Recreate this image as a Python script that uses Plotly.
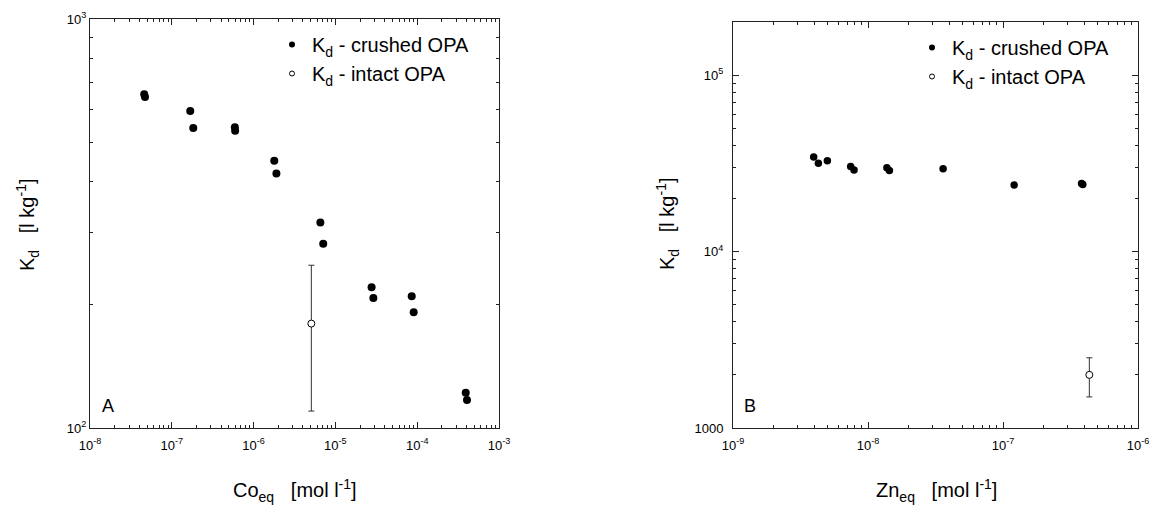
import plotly.graph_objects as go

# ---------------- data ----------------
co_crushed_x = [4.6e-8, 4.7e-8, 1.68e-7, 1.83e-7, 5.9e-7, 5.95e-7, 1.79e-6, 1.9e-6,
                6.55e-6, 7.1e-6, 2.77e-5, 2.91e-5, 8.57e-5, 9.06e-5, 3.92e-4, 4.06e-4]
co_crushed_kd = [655, 645, 596, 541, 544, 533, 450, 419, 318, 282, 221, 208, 210, 192, 122, 117]
co_intact_x = [5.08e-6]
co_intact_kd = [180]
co_intact_err_plus = [70]
co_intact_err_minus = [70]

zn_crushed_x = [3.96e-9, 4.29e-9, 5.0e-9, 7.44e-9, 7.88e-9, 1.38e-8, 1.44e-8, 3.6e-8,
                1.21e-7, 3.82e-7, 3.9e-7]
zn_crushed_kd = [34400, 31700, 32700, 30300, 29000, 29900, 28800, 29500, 23800, 24300, 24000]
zn_intact_x = [4.36e-7]
zn_intact_kd = [2000]
zn_intact_err_plus = [500]
zn_intact_err_minus = [500]

co_x_ticks = [1e-8, 1e-7, 1e-6, 1e-5, 1e-4, 1e-3]
co_x_labels = ["10<sup>-8</sup>", "10<sup>-7</sup>", "10<sup>-6</sup>",
               "10<sup>-5</sup>", "10<sup>-4</sup>", "10<sup>-3</sup>"]
co_y_ticks = [100, 1000]
co_y_labels = ["10<sup>2</sup>", "10<sup>3</sup>"]
zn_x_ticks = [1e-9, 1e-8, 1e-7, 1e-6]
zn_x_labels = ["10<sup>-9</sup>", "10<sup>-8</sup>", "10<sup>-7</sup>", "10<sup>-6</sup>"]
zn_y_ticks = [1000, 1e4, 1e5]
zn_y_labels = ["1000", "10<sup>4</sup>", "10<sup>5</sup>"]

legend_crushed = "K<sub>d</sub> - crushed OPA"
legend_intact = "K<sub>d</sub> - intact OPA"


def minor_vals(lo_exp, hi_exp):
    vals = []
    for e in range(lo_exp, hi_exp):
        for m in range(2, 10):
            vals.append(m * 10 ** e)
    return vals


FONT = "Arial, Liberation Sans, sans-serif"
AX = "#222222"

fig = go.Figure()

# ---- Panel A ----
fig.add_trace(go.Scatter(x=co_crushed_x, y=co_crushed_kd, mode="markers",
                         marker=dict(color="black", size=8), showlegend=False,
                         xaxis="x", yaxis="y"))
fig.add_trace(go.Scatter(x=co_intact_x, y=co_intact_kd, mode="markers",
                         marker=dict(color="white", size=7, line=dict(color="black", width=1)),
                         error_y=dict(type="data", array=co_intact_err_plus,
                                      arrayminus=co_intact_err_minus, color="#333333",
                                      thickness=1, width=3),
                         showlegend=False, xaxis="x", yaxis="y"))
fig.add_trace(go.Scatter(x=[None], y=[None], mode="markers", name=legend_crushed,
                         marker=dict(color="black", size=6), legend="legend",
                         xaxis="x", yaxis="y"))
fig.add_trace(go.Scatter(x=[None], y=[None], mode="markers", name=legend_intact,
                         marker=dict(color="white", size=5, line=dict(color="black", width=1)),
                         legend="legend", xaxis="x", yaxis="y"))

# ---- Panel B ----
fig.add_trace(go.Scatter(x=zn_crushed_x, y=zn_crushed_kd, mode="markers",
                         marker=dict(color="black", size=7.5), showlegend=False,
                         xaxis="x2", yaxis="y2"))
fig.add_trace(go.Scatter(x=zn_intact_x, y=zn_intact_kd, mode="markers",
                         marker=dict(color="white", size=7, line=dict(color="black", width=1)),
                         error_y=dict(type="data", array=zn_intact_err_plus,
                                      arrayminus=zn_intact_err_minus, color="#333333",
                                      thickness=1, width=3),
                         showlegend=False, xaxis="x2", yaxis="y2"))
fig.add_trace(go.Scatter(x=[None], y=[None], mode="markers", name=legend_crushed,
                         marker=dict(color="black", size=6), legend="legend2",
                         xaxis="x2", yaxis="y2"))
fig.add_trace(go.Scatter(x=[None], y=[None], mode="markers", name=legend_intact,
                         marker=dict(color="white", size=5, line=dict(color="black", width=1)),
                         legend="legend2", xaxis="x2", yaxis="y2"))


def axis(domain, rng, ticks, labels, minor, anchor, standoff):
    return dict(type="log", domain=domain, range=rng, anchor=anchor, automargin=False,
                tickmode="array", tickvals=ticks, ticktext=labels,
                ticks="inside", ticklen=6, tickwidth=1, tickcolor=AX,
                showline=True, linecolor=AX, linewidth=1, mirror="ticks",
                showgrid=False, zeroline=False, ticklabelstandoff=standoff,
                tickfont=dict(family=FONT, size=13, color="black"),
                minor=dict(tickmode="array", tickvals=minor, ticks="inside",
                           ticklen=3, tickwidth=1, tickcolor=AX, showgrid=False))


yA = [1 - 428 / 508, 1 - 19 / 508]
yB = [1 - 428 / 508, 1 - 22 / 508]


def ann(text, px, py, size, angle=0):
    return dict(text=text, x=px / 1153, y=1 - py / 508, xref="paper", yref="paper",
                xanchor="center", yanchor="middle", showarrow=False, textangle=angle,
                font=dict(family=FONT, size=size))


fig.update_layout(
    width=1153, height=508,
    margin=dict(l=0, r=0, t=0, b=0, pad=0),
    paper_bgcolor="white", plot_bgcolor="white",
    font=dict(family=FONT, color="black"),
    xaxis=axis([90 / 1153, 499 / 1153], [-8, -3], co_x_ticks, co_x_labels,
               minor_vals(-8, -3), "y", 5),
    yaxis=axis(yA, [2, 3], co_y_ticks, co_y_labels, minor_vals(2, 3), "x", 0),
    xaxis2=axis([733 / 1153, 1138 / 1153], [-9, -6], zn_x_ticks, zn_x_labels,
                minor_vals(-9, -6), "y2", 5),
    yaxis2=axis(yB, [3, 5.30103], zn_y_ticks, zn_y_labels, minor_vals(3, 5), "x2", 6),
    legend=dict(x=272 / 1153, y=1 - 25 / 508, xanchor="left", yanchor="top",
                bgcolor="rgba(0,0,0,0)", font=dict(family=FONT, size=20),
                tracegroupgap=0, itemwidth=30),
    legend2=dict(x=912 / 1153, y=1 - 28 / 508, xanchor="left", yanchor="top",
                 bgcolor="rgba(0,0,0,0)", font=dict(family=FONT, size=20),
                 tracegroupgap=0, itemwidth=30),
    annotations=[
        ann("A", 108, 406, 18),
        ann("B", 750, 406, 18),
        ann("Co<sub>eq</sub>   [mol l<sup>-1</sup>]", 295, 490, 20),
        ann("Zn<sub>eq</sub>   [mol l<sup>-1</sup>]", 936, 490, 20),
        ann("K<sub>d</sub>   [l kg<sup>-1</sup>]", 27, 224, 20, -90),
        ann("K<sub>d</sub>   [l kg<sup>-1</sup>]", 667, 224, 20, -90),
    ],
)

fig.write_html("out.html", config={"displayModeBar": False},
               post_script="document.body.style.margin='0';")
